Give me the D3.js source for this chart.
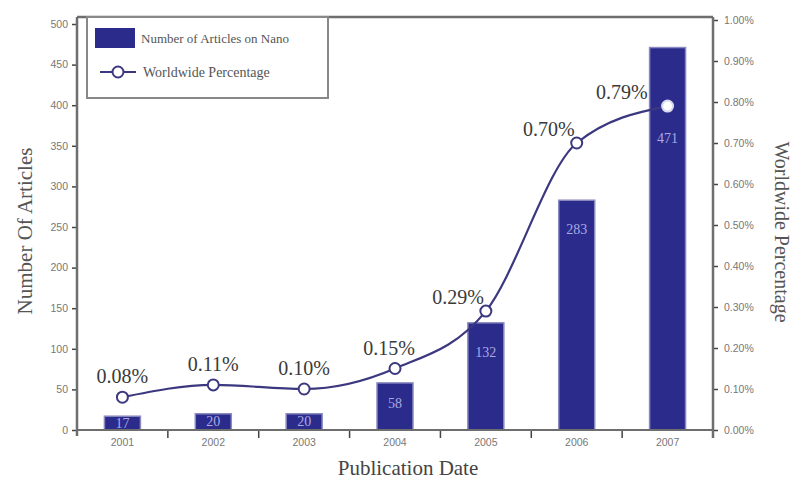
<!DOCTYPE html>
<html>
<head>
<meta charset="utf-8">
<script src="https://cdn.jsdelivr.net/npm/d3@7"></script>
<style>
html,body{margin:0;padding:0;background:#fff;}
svg{display:block;font-family:"Liberation Serif","DejaVu Serif",serif;}
</style>
</head>
<body>
<svg id="chart" width="796" height="479"></svg>
<script>
const years = ["2001","2002","2003","2004","2005","2006","2007"];
const articles = [17, 20, 20, 58, 132, 283, 471];
const percentages = [0.08, 0.11, 0.10, 0.15, 0.29, 0.70, 0.79];
const leftTicks = [0,50,100,150,200,250,300,350,400,450,500];
const rightTicks = [0,0.1,0.2,0.3,0.4,0.5,0.6,0.7,0.8,0.9,1.0];

(function(){
const svg = d3.select("#chart");
const pLeft = 77, pRight = 713, pBottom = 430, pTop = 17;

const x = d3.scaleBand().domain(years).range([pLeft, pRight]).paddingInner(0).paddingOuter(0);
const yL = d3.scaleLinear().domain([0, 500]).range([pBottom, 24]);
const yR = d3.scaleLinear().domain([0, 1]).range([pBottom, 20]);

const axisColor = "#6e6e6e";
const barColor = "#2b2b8c";
const lineColor = "#3c3880";
const barW = 36;
const cx = i => x(years[i]) + x.bandwidth()/2;

// bars
svg.append("g").selectAll("rect").data(articles).join("rect")
  .attr("x", (d,i) => cx(i) - barW/2)
  .attr("y", d => yL(d))
  .attr("width", barW)
  .attr("height", d => pBottom - yL(d))
  .attr("fill", barColor)
  .attr("stroke", "#8a8ac0")
  .attr("stroke-width", 1.5);

// bar labels
svg.append("g").selectAll("text").data(articles).join("text")
  .attr("x", (d,i) => cx(i))
  .attr("y", (d,i) => {
    const t = yL(d), h = pBottom - t;
    let yy = t + Math.min(34, 0.4*h + 6);
    const my = yR(percentages[i]);
    if (my > t && Math.abs(my - yy) < 30) yy = my + 37;
    return yy;
  })
  .attr("text-anchor", "middle")
  .attr("font-size", 14)
  .attr("fill", "#aaaae2")
  .text(d => d);

// line
const line = d3.line()
  .x((d,i) => cx(i))
  .y(d => yR(d))
  .curve(d3.curveMonotoneX);
svg.append("path").datum(percentages)
  .attr("d", line)
  .attr("fill", "none")
  .attr("stroke", lineColor)
  .attr("stroke-width", 2.2);

svg.append("g").selectAll("circle").data(percentages).join("circle")
  .attr("cx", (d,i) => cx(i))
  .attr("cy", d => yR(d))
  .attr("r", 5.5)
  .attr("fill", "#fff")
  .attr("stroke", (d,i) => yR(d) > yL(articles[i]) ? "#d8d8f0" : lineColor)
  .attr("stroke-width", 2);

// percentage labels
svg.append("g").selectAll("text").data(percentages).join("text")
  .attr("x", (d,i) => {
    if (i < 4) return cx(i) - (i === 3 ? 6 : 0);
    const ly = yR(d) - 7;
    let ex = cx(i) - 2;
    if (ly > yL(articles[i])) ex = Math.min(ex, cx(i) - barW/2 - 2);
    return ex;
  })
  .attr("y", (d,i) => yR(d) - (i < 4 ? 14 : 7))
  .attr("text-anchor", (d,i) => i < 4 ? "middle" : "end")
  .attr("font-size", 20)
  .attr("fill", "#3a3a3a")
  .text(d => d.toFixed(2) + "%");

// axes
const gL = svg.append("g").attr("transform", `translate(${pLeft},0)`)
  .call(d3.axisLeft(yL).tickValues(leftTicks).tickSize(5).tickPadding(4).tickFormat(d3.format("d")));
const gR = svg.append("g").attr("transform", `translate(${pRight},0)`)
  .call(d3.axisRight(yR).tickValues(rightTicks).tickSize(5).tickPadding(6).tickFormat(d => d.toFixed(2) + "%"));
const gB = svg.append("g").attr("transform", `translate(0,${pBottom})`)
  .call(d3.axisBottom(x).tickSize(0).tickPadding(9));

[gL, gR, gB].forEach(g => {
  g.select(".domain").remove();
  g.selectAll("line").attr("stroke", "#444").attr("stroke-width", 1.5);
  g.selectAll("text").attr("font-size", 10.5).attr("fill", "#777").attr("font-family", "Liberation Sans, sans-serif");
});

// category separator ticks
svg.append("g").selectAll("line").data(years).join("line")
  .attr("x1", d => x(d) + x.bandwidth())
  .attr("x2", d => x(d) + x.bandwidth())
  .attr("y1", pBottom)
  .attr("y2", pBottom + 8)
  .attr("stroke", "#444")
  .attr("stroke-width", 1.5);

// frame
const frame = svg.append("g").attr("stroke", axisColor).attr("stroke-width", 2.5).attr("fill", "none");
frame.append("line").attr("x1", pLeft).attr("x2", pLeft).attr("y1", pTop).attr("y2", pBottom + 6);
frame.append("line").attr("x1", pRight).attr("x2", pRight).attr("y1", pTop).attr("y2", pBottom + 8);
frame.append("line").attr("x1", pLeft).attr("x2", pRight).attr("y1", pTop).attr("y2", pTop);
frame.append("line").attr("x1", pLeft).attr("x2", pRight).attr("y1", pBottom).attr("y2", pBottom).attr("stroke-width", 2);

// legend
const lg = svg.append("g");
lg.append("rect").attr("x", 87).attr("y", pTop).attr("width", 241).attr("height", 81)
  .attr("fill", "#fff").attr("stroke", "#888").attr("stroke-width", 2);
lg.append("rect").attr("x", 95).attr("y", 28).attr("width", 40).attr("height", 20).attr("fill", barColor);
lg.append("text").attr("x", 141).attr("y", 43).attr("font-size", 13).attr("fill", "#555")
  .text("Number of Articles on Nano");
lg.append("line").attr("x1", 100).attr("x2", 136).attr("y1", 72).attr("y2", 72)
  .attr("stroke", lineColor).attr("stroke-width", 2.2);
lg.append("circle").attr("cx", 118).attr("cy", 72).attr("r", 5.5)
  .attr("fill", "#fff").attr("stroke", lineColor).attr("stroke-width", 2);
lg.append("text").attr("x", 143).attr("y", 77).attr("font-size", 14).attr("fill", "#555")
  .text("Worldwide Percentage");

// titles
svg.append("text").attr("transform", "translate(32,231) rotate(-90)")
  .attr("text-anchor", "middle").attr("font-size", 21).attr("fill", "#555")
  .text("Number Of Articles");
svg.append("text").attr("transform", "translate(775,232) rotate(90)")
  .attr("text-anchor", "middle").attr("font-size", 20).attr("fill", "#555")
  .text("Worldwide Percentage");
svg.append("text").attr("x", 408).attr("y", 475)
  .attr("text-anchor", "middle").attr("font-size", 21).attr("fill", "#444")
  .text("Publication Date");
})();
</script>
</body>
</html>
